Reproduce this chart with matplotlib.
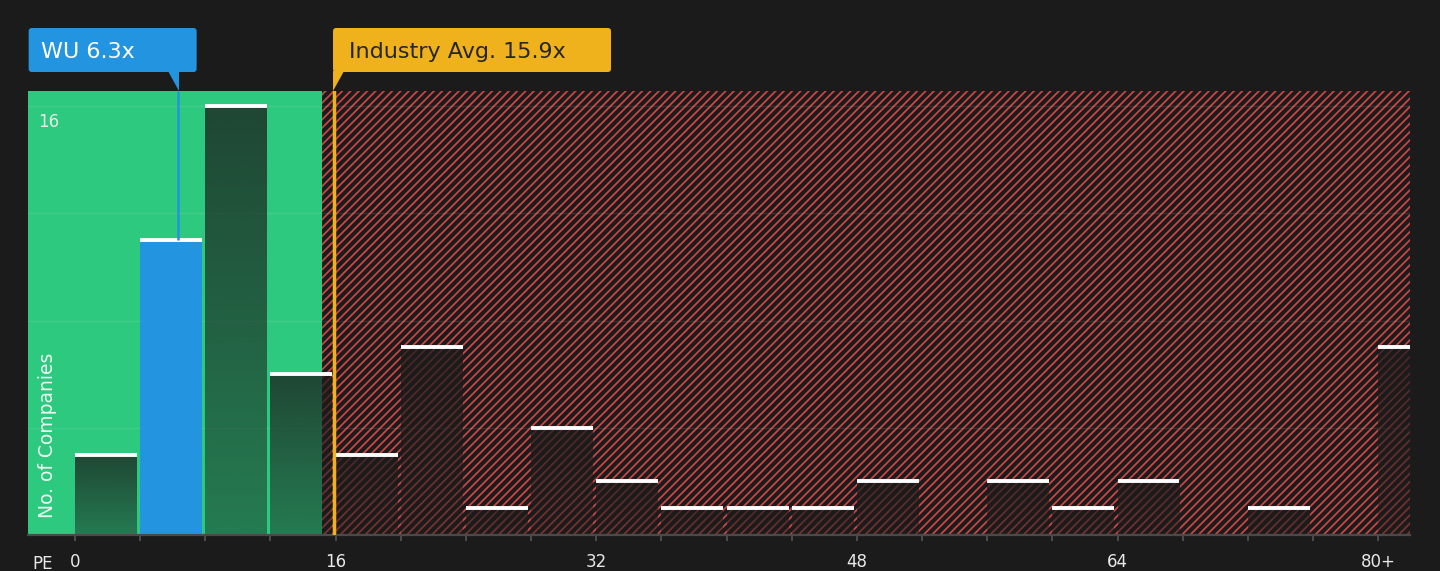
import numpy as np
import matplotlib
matplotlib.use("Agg")
import matplotlib.pyplot as plt
from matplotlib.patches import FancyBboxPatch, Polygon
from matplotlib.transforms import IdentityTransform

# ---------------- data ----------------
bin_starts = [0, 4, 8, 12, 16, 20, 24, 28, 32, 36, 40, 44, 48, 52, 56, 60, 64, 68, 72, 76, 80]
counts = [3, 11, 16, 6, 3, 7, 1, 4, 2, 1, 1, 1, 2, 0, 2, 1, 2, 0, 1, 0, 7]
tick_values = [0, 16, 32, 48, 64, 80]
tick_texts = ["0", "16", "32", "48", "64", "80+"]
grid_values = [4, 8, 12, 16]
company_name = "WU"
company_pe = 6.3
industry_pe = 15.9
green_zone_end = 15.15
bin_width = 4

# ---------------- style ----------------
BG = "#1b1b1b"
GREEN = "#2dc97e"
BLUE = "#2394e0"
YELLOW = "#efb21d"
HATCH_RED = "#c84646"
W, H = 1440, 571

plt.rcParams["font.family"] = ["DejaVu Sans"]
plt.rcParams["hatch.linewidth"] = 1.3

fig = plt.figure(figsize=(W / 100, H / 100), dpi=100, facecolor=BG)
ax = fig.add_axes([28 / W, (H - 535) / H, (1410 - 28) / W, (535 - 91) / H])
ax.set_facecolor(BG)
XMIN, XMAX = -2.885, 81.95
YMAX = 16.56

# background zones
ax.axvspan(XMIN, green_zone_end, facecolor=GREEN, edgecolor="none", lw=0, zorder=0)
ax.axvspan(green_zone_end, XMAX, facecolor=BG, edgecolor=HATCH_RED, hatch="////", lw=0, zorder=0)

# grid
ax.hlines(grid_values, XMIN, XMAX, color="white", alpha=0.09, lw=1, zorder=0.5)

# bars
bars = ax.bar(bin_starts, counts, width=bin_width * 0.95, align="edge",
              facecolor="none", edgecolor="none", zorder=2)
comp_idx = [i for i, s in enumerate(bin_starts) if s <= company_pe < s + bin_width][0]

ngrad = 64
alpha_col = np.linspace(0.75, 0.45, ngrad)
grad = np.zeros((ngrad, 1, 4))
grad[..., 0:3] = 27 / 255
grad[:, 0, 3] = alpha_col

for i, b in enumerate(bars):
    x, w, h = b.get_x(), b.get_width(), b.get_height()
    if h <= 0:
        continue
    if i == comp_idx:
        b.set_facecolor(BLUE)
    else:
        ax.imshow(grad, extent=(x, x + w, 0, h), aspect="auto",
                  interpolation="bilinear", zorder=2)
    ax.hlines(h, x, x + w, color="white", lw=2.8, zorder=3)

# marker lines
ax.vlines(company_pe, counts[comp_idx], YMAX, color=BLUE, lw=1.8, zorder=4)
ax.axvline(industry_pe, color=YELLOW, lw=2.5, zorder=4)

ax.set_xlim(XMIN, XMAX)
ax.set_ylim(0, YMAX)

# axes styling
edges = bin_starts
labels = [tick_texts[tick_values.index(e)] if e in tick_values else "" for e in edges]
ax.set_xticks(edges, labels)
ax.set_yticks([])
ax.tick_params(axis="x", length=4.5, width=1.2, color="#555555",
               labelcolor="#e8e8e8", labelsize=12, pad=8.5)
for s in ["top", "right", "left"]:
    ax.spines[s].set_visible(False)
ax.spines["bottom"].set_color("#4a4a4a")
ax.spines["bottom"].set_linewidth(1.6)
ax.spines["bottom"].set_zorder(3)


def fx(px):
    return px / W


def fy(py):
    return 1 - py / H


fig.text(fx(32), fy(569), "PE", color="#e8e8e8", fontsize=12, va="baseline")
fig.text(fx(38), fy(127), "16", color="#e8e8e8", fontsize=12, va="baseline")
fig.text(fx(48), fy(435), "No. of Companies", color="#eef7f2", fontsize=13.5,
         rotation=90, va="center", ha="center")

# callouts (drawn in display pixels)
ident = IdentityTransform()
fig.canvas.draw()
ctx = ax.transData.transform((company_pe, 0))[0]
itx = ax.transData.transform((industry_pe, 0))[0]


def callout(left, width, tip, face, text, tcolor, pointer_right):
    box = FancyBboxPatch((left, H - 72), width, 44,
                         boxstyle="round,pad=0,rounding_size=3",
                         facecolor=face, edgecolor="none", transform=ident, zorder=5)
    fig.add_artist(box)
    if pointer_right:
        pts = [(tip - 10, H - 71), (tip + 1, H - 71), (tip + 1, H - 91)]
    else:
        pts = [(tip - 1, H - 71), (tip + 10, H - 71), (tip - 1, H - 91)]
    fig.add_artist(Polygon(pts, closed=True, facecolor=face, edgecolor="none",
                           transform=ident, zorder=5))
    fig.text(fx(left + 12 if pointer_right else left + 16), fy(58.5), text,
             color=tcolor, fontsize=16, va="baseline", zorder=6)


callout(ctx + 19 - 168, 168, ctx, BLUE, f"{company_name} {company_pe}x", "white", True)
callout(itx - 1, 278, itx, YELLOW, f"Industry Avg. {industry_pe}x", "#262626", False)

fig.savefig("out.png", dpi=100, facecolor=BG)
